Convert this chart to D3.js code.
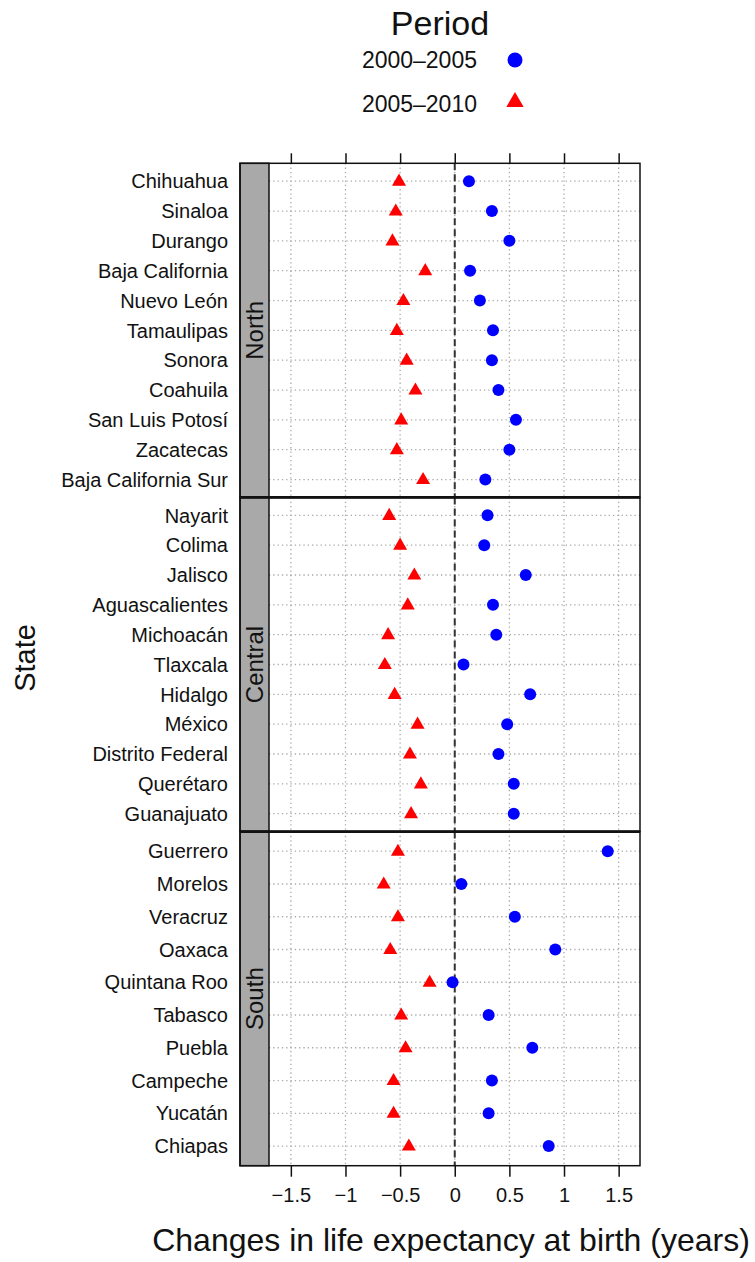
<!DOCTYPE html>
<html>
<head>
<meta charset="utf-8">
<script src="https://cdn.jsdelivr.net/npm/d3@7"></script>
<style>
  body { margin: 0; background: #fff; }
  text { font-family: "Liberation Sans", Arial, sans-serif; fill: #111; }
</style>
</head>
<body>
<svg id="chart" width="755" height="1262"></svg>
<script>
// regions, top panel first
const regions = ["North", "Central", "South"]

// states per region, listed top to bottom
const northStates = ["Chihuahua", "Sinaloa", "Durango", "Baja California", "Nuevo León", "Tamaulipas",
  "Sonora", "Coahuila", "San Luis Potosí", "Zacatecas", "Baja California Sur"]
const centralStates = ["Nayarit", "Colima", "Jalisco", "Aguascalientes", "Michoacán", "Tlaxcala",
  "Hidalgo", "México", "Distrito Federal", "Querétaro", "Guanajuato"]
const southStates = ["Guerrero", "Morelos", "Veracruz", "Oaxaca", "Quintana Roo", "Tabasco",
  "Puebla", "Campeche", "Yucatán", "Chiapas"]

// change in life expectancy, 2000-2005 (blue dots)
const northP1 = [0.13, 0.34, 0.50, 0.14, 0.23, 0.35, 0.34, 0.40, 0.56, 0.50, 0.28]
const centralP1 = [0.30, 0.27, 0.65, 0.35, 0.38, 0.08, 0.69, 0.48, 0.40, 0.54, 0.54]
const southP1 = [1.40, 0.06, 0.55, 0.92, -0.02, 0.31, 0.71, 0.34, 0.31, 0.86]

// change in life expectancy, 2005-2010 (red triangles)
const northP2 = [-0.51, -0.54, -0.57, -0.27, -0.47, -0.53, -0.44, -0.36, -0.49, -0.53, -0.29]
const centralP2 = [-0.60, -0.50, -0.37, -0.43, -0.61, -0.64, -0.55, -0.34, -0.41, -0.31, -0.40]
const southP2 = [-0.52, -0.65, -0.52, -0.59, -0.23, -0.49, -0.45, -0.56, -0.56, -0.42]

const periods = ["2000–2005", "2005–2010"]
const xTicks = [-1.5, -1, -0.5, 0, 0.5, 1, 1.5]

const stateLists = [northStates, centralStates, southStates]
const p1Lists = [northP1, centralP1, southP1]
const p2Lists = [northP2, centralP2, southP2]

const svg = d3.select("#chart")

const boxL = 240, stripW = 29, plotL = boxL + stripW, plotR = 640
const plotT = 163.3, plotB = 1165.7
const panelH = (plotB - plotT) / 3

const x = d3.scaleLinear().domain([-1.7, 1.7]).range([plotL, plotR + 0.5])
const panelY = d3.scaleBand().domain(regions).range([plotT, plotB])

const tri = d3.symbol().type(d3.symbolTriangle)

regions.forEach(function(region, i){
  const g = svg.append("g").attr("transform", "translate(0," + panelY(region) + ")")
  const rows = stateLists[i]
  const y = d3.scalePoint().domain(rows).range([0, panelH]).padding(0.6)

  // vertical grid
  g.selectAll(".vgrid").data(xTicks).enter()
    .append("line")
    .attr("x1", d => x(d)).attr("x2", d => x(d))
    .attr("y1", 0).attr("y2", panelH)
    .attr("stroke", "#a8a8a8").attr("stroke-width", 1.3)
    .attr("stroke-dasharray", "1.3,3")
  // horizontal grid
  g.selectAll(".hgrid").data(rows).enter()
    .append("line")
    .attr("x1", plotL).attr("x2", plotR)
    .attr("y1", d => y(d)).attr("y2", d => y(d))
    .attr("stroke", "#a8a8a8").attr("stroke-width", 1.3)
    .attr("stroke-dasharray", "1.3,3")

  // zero reference line
  g.append("line")
    .attr("x1", x(0)).attr("x2", x(0))
    .attr("y1", 0).attr("y2", panelH)
    .attr("stroke", "#333").attr("stroke-width", 2)
    .attr("stroke-dasharray", "7,4")

  // points
  const p1 = p1Lists[i], p2 = p2Lists[i]
  g.selectAll(".p2").data(rows).enter()
    .append("path")
    .attr("d", tri.size(85))
    .attr("transform", (d, j) => "translate(" + x(p2[j]) + "," + (y(d) + 0.5) + ")")
    .attr("fill", "#ff0000")
  g.selectAll(".p1").data(rows).enter()
    .append("circle")
    .attr("cx", (d, j) => x(p1[j]))
    .attr("cy", d => y(d))
    .attr("r", 6)
    .attr("fill", "#0000ff")

  // state labels
  g.selectAll(".lab").data(rows).enter()
    .append("text")
    .attr("x", 228).attr("y", d => y(d))
    .attr("dy", "0.36em")
    .attr("text-anchor", "end")
    .style("font-size", "20px")
    .text(d => d)

  // strip
  g.append("rect")
    .attr("x", boxL).attr("y", 0).attr("width", stripW).attr("height", panelH)
    .attr("fill", "#a9a9a9").attr("stroke", "#111").attr("stroke-width", 1.5)
  g.append("text")
    .attr("transform", "translate(" + (boxL + stripW / 2 + 8) + "," + (panelH / 2) + ") rotate(-90)")
    .attr("text-anchor", "middle")
    .style("font-size", "24px")
    .text(region)

  // panel border
  g.append("rect")
    .attr("x", boxL).attr("y", 0).attr("width", plotR - boxL).attr("height", panelH)
    .attr("fill", "none").attr("stroke", "#111").attr("stroke-width", 1.5)
})

// panel separators a bit heavier (double border in lattice)
svg.selectAll(".sep").data(regions.slice(1)).enter()
  .append("line")
  .attr("x1", boxL).attr("x2", plotR)
  .attr("y1", d => panelY(d)).attr("y2", d => panelY(d))
  .attr("stroke", "#111").attr("stroke-width", 2.8)

// axes
const fmt = d3.format("~g")
const topAxis = svg.append("g").attr("transform", "translate(0," + plotT + ")")
  .call(d3.axisTop(x).tickValues(xTicks).tickSize(10).tickFormat(""))
const botAxis = svg.append("g").attr("transform", "translate(0," + plotB + ")")
  .call(d3.axisBottom(x).tickValues(xTicks).tickSize(11).tickPadding(11).tickFormat(fmt))
;[topAxis, botAxis].forEach(function(a){
  a.select(".domain").remove()
  a.selectAll(".tick line").attr("stroke", "#111").attr("stroke-width", 1.5)
})
botAxis.selectAll(".tick text")
  .attr("fill", "#111")
  .style("font-family", "'Liberation Sans', Arial, sans-serif")
  .style("font-size", "20px")

// axis titles
svg.append("text")
  .attr("x", 451).attr("y", 1251)
  .attr("text-anchor", "middle")
  .style("font-size", "32px")
  .text("Changes in life expectancy at birth (years)")
svg.append("text")
  .attr("transform", "translate(35,658) rotate(-90)")
  .attr("text-anchor", "middle")
  .style("font-size", "29px")
  .text("State")

// legend
svg.append("text")
  .attr("x", 440).attr("y", 35)
  .attr("text-anchor", "middle")
  .style("font-size", "34px")
  .text("Period")
const leg = svg.selectAll(".leg").data(periods).enter()
  .append("g")
  .attr("transform", (d, i) => "translate(0," + (60 + i * 44) + ")")
leg.append("text")
  .attr("x", 477).attr("y", 0)
  .attr("dy", "0.36em")
  .attr("text-anchor", "end")
  .style("font-size", "23px")
  .text(d => d)
leg.filter((d, i) => i == 0).append("circle")
  .attr("cx", 515).attr("cy", 0).attr("r", 7.5)
  .attr("fill", "#0000ff")
leg.filter((d, i) => i == 1).append("path")
  .attr("d", tri.size(130))
  .attr("transform", "translate(515,-2)")
  .attr("fill", "#ff0000")
</script>
</body>
</html>
